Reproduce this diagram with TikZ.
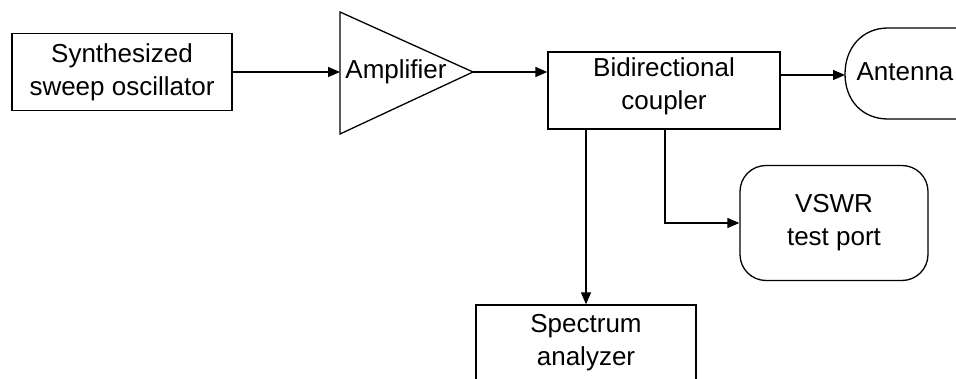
\documentclass[tikz,border=0pt]{standalone}
\usepackage{fontspec}
\setmainfont{Liberation Sans}
\usetikzlibrary{arrows.meta}
\begin{document}
\begin{tikzpicture}[x=1pt,y=-1pt,
  line width=1.3pt,
  box/.style={draw,line width=1.3pt,minimum width=#1,inner sep=0pt},
  txt/.style={font=\fontsize{26}{33}\selectfont,align=center,inner sep=0pt},
  arr/.style={-{Triangle[length=12pt,width=10pt]}},
  ln/.style={line width=1.3pt}]
\clip (0,0) rectangle (956,379);
\fill[white] (0,0) rectangle (956,379);
% oscillator
\node[box=220pt,minimum height=77pt,txt] (osc) at (122,72) {Synthesized\\sweep oscillator};
% amplifier
\coordinate (ampin) at (340,72);
\coordinate (ampout) at (473,72);
\draw[ln,line join=miter] (340,12) -- (ampout) -- (340,134) -- cycle;
\node[txt] (amptext) at (396,72) {Amplifier};
% coupler
\node[box=232pt,minimum height=77pt] (cpl) at (664,90.5) {};
\node[txt] (cpltext) at (664,86) {Bidirectional\\coupler};
% antenna
\coordinate (antin) at (845,75);
\draw[ln] (960,28) -- (888,28) .. controls (862,28) and (845,48) .. (845,74)
  .. controls (845,100) and (862,119) .. (888,119) -- (960,119);
\node[txt] (anttext) at (905,72) {Antenna};
% VSWR
\node[box=188pt,minimum height=115pt,rounded corners=26pt,txt] (vswr) at (834,223) {VSWR\\test port};
% spectrum analyzer
\node[box=220pt,minimum height=76pt,txt] (spec) at (586,343) {Spectrum\\analyzer};
% connectors
\coordinate (tap) at (665,0);
\draw[ln,arr] (osc.east) -- (ampin);
\draw[ln,arr] (ampout) -- (ampout -| cpl.west);
\draw[ln,arr] (cpl.east |- antin) -- (antin);
\draw[ln,arr] (cpl.south -| spec.north) -- (spec.north);
\draw[ln,arr] (cpl.south -| tap) |- (vswr.west);
\end{tikzpicture}
\end{document}
